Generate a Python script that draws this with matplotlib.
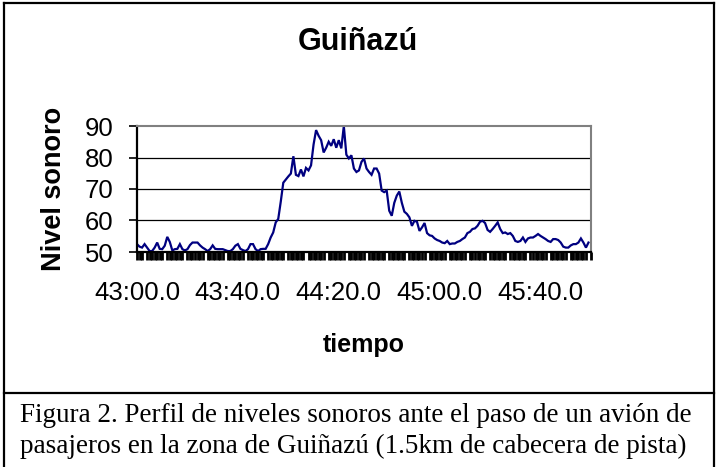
import numpy as np
import matplotlib
matplotlib.use("Agg")
import matplotlib.pyplot as plt
from matplotlib.ticker import FixedLocator, FuncFormatter

# seconds after 43:00.0, one reading per second
seconds = np.arange(0, 180)
nivel = [
    52.5, 51.7, 51.4, 52.5, 51.4, 50.3, 50.3, 51.4, 53.0, 51.0,
    50.9, 52.0, 54.8, 53.2, 50.5, 50.9, 51.0, 52.5, 50.9, 50.5,
    50.9, 52.2, 53.0, 53.0, 53.0, 52.1, 51.4, 50.9, 50.3, 50.9,
    52.1, 51.0, 50.9, 50.9, 50.9, 50.6, 50.3, 50.3, 50.9, 52.0,
    52.5, 51.0, 50.6, 50.3, 50.9, 52.5, 52.5, 50.9, 50.3, 50.9,
    51.0, 51.0, 52.5, 54.6, 56.2, 59.4, 60.5, 66.0, 72.0, 73.0,
    74.0, 74.9, 80.4, 74.5, 74.1, 76.2, 74.0, 76.7, 75.9, 77.5,
    84.1, 88.7, 86.9, 85.5, 81.6, 83.1, 85.0, 83.7, 85.8, 83.1,
    85.5, 82.9, 90.0, 80.9, 79.7, 80.7, 76.5, 75.4, 75.9, 78.6,
    79.7, 76.5, 75.4, 74.5, 76.5, 76.5, 74.9, 69.5, 69.0, 69.5,
    63.1, 61.5, 65.6, 67.9, 69.2, 65.6, 62.8, 62.1, 61.0, 58.3,
    59.9, 59.6, 56.7, 57.8, 59.2, 56.0, 55.3, 55.1, 54.3, 53.8,
    53.5, 53.0, 52.8, 53.5, 52.5, 52.7, 52.7, 53.2, 53.5, 54.1,
    54.6, 56.0, 56.4, 57.3, 57.5, 58.3, 59.6, 59.9, 59.2, 57.0,
    56.4, 57.3, 58.3, 59.4, 57.3, 56.0, 56.2, 55.7, 56.0, 55.1,
    53.5, 53.2, 53.5, 54.6, 53.2, 54.3, 54.6, 54.6, 55.1, 55.7,
    55.1, 54.6, 54.1, 53.5, 53.2, 54.1, 54.1, 53.8, 53.0, 51.7,
    51.4, 51.4, 52.1, 52.5, 52.5, 53.0, 54.3, 53.0, 51.4, 53.0,
]
label_seconds = [0, 40, 80, 120, 160]
y_ticks = [50, 60, 70, 80, 90]

titulo = "Guiñazú"
caption = ("Figura 2. Perfil de niveles sonoros ante el paso de un avión de\n"
           "pasajeros en la zona de Guiñazú (1.5km de cabecera de pista)")


def fmt_time(s, pos=None):
    total = 43 * 60 + s
    return "{:02d}:{:04.1f}".format(int(total // 60), total % 60)


fig = plt.figure(figsize=(7.18, 4.67), dpi=100)
W, H = 718, 467

# outer frame around chart and caption
frame = dict(color="black", lw=1.6, transform=fig.transFigure, clip_on=False)
fig.add_artist(plt.Line2D([4 / W, 4 / W], [0, 1 - 3 / H], **frame))
fig.add_artist(plt.Line2D([714 / W, 714 / W], [0, 1 - 3 / H], **frame))
fig.add_artist(plt.Line2D([4 / W, 714 / W], [1 - 3 / H, 1 - 3 / H], **frame))
fig.add_artist(plt.Line2D([4 / W, 714 / W], [1 - 393 / H, 1 - 393 / H], **frame))

ax = fig.add_axes([137 / W, 1 - 252 / H, 454 / W, 126 / H])
ax.plot(seconds, nivel, color="#000080", lw=1.6, solid_joinstyle="miter")
ax.set_xlim(0, 180)
ax.set_ylim(50, 90)

for v in y_ticks[1:-1]:
    ax.axhline(v, color="black", lw=0.9, zorder=0)

ax.spines["top"].set_color("#808080")
ax.spines["right"].set_color("#808080")
ax.spines["top"].set_linewidth(1.5)
ax.spines["right"].set_linewidth(1.5)
ax.spines["left"].set_linewidth(1.6)
ax.spines["bottom"].set_linewidth(1.6)

ax.set_yticks(y_ticks)
ax.tick_params(axis="y", direction="out", length=6, width=1.2,
               labelsize=18.5, pad=11)

# dense category ticks forming a black band under the axis
minor = [s for s in range(0, 181) if s not in label_seconds and s % 8 != 3]
ax.xaxis.set_major_locator(FixedLocator(label_seconds))
ax.xaxis.set_minor_locator(FixedLocator(minor))
ax.xaxis.set_major_formatter(FuncFormatter(fmt_time))
ax.tick_params(axis="x", which="both", direction="out", length=6, width=2.0)
ax.tick_params(axis="x", which="major", labelsize=18.5, pad=15)

for lab in ax.get_xticklabels() + ax.get_yticklabels():
    lab.set_family("Liberation Sans")

ax.set_ylabel("Nivel sonoro", fontsize=19.5, fontweight="bold",
              family="Liberation Sans", labelpad=13)
ax.set_xlabel("tiempo", fontsize=18, fontweight="bold",
              family="Liberation Sans", labelpad=20)

fig.text(358 / W, 1 - 42 / H, titulo, ha="center", va="center",
         fontsize=22, fontweight="bold", family="Liberation Sans")

fig.text(20 / W, 1 - 431 / H, caption, ha="left", va="center",
         fontsize=19.5, family="Liberation Serif", linespacing=1.35)

fig.savefig("out.png", dpi=100)
